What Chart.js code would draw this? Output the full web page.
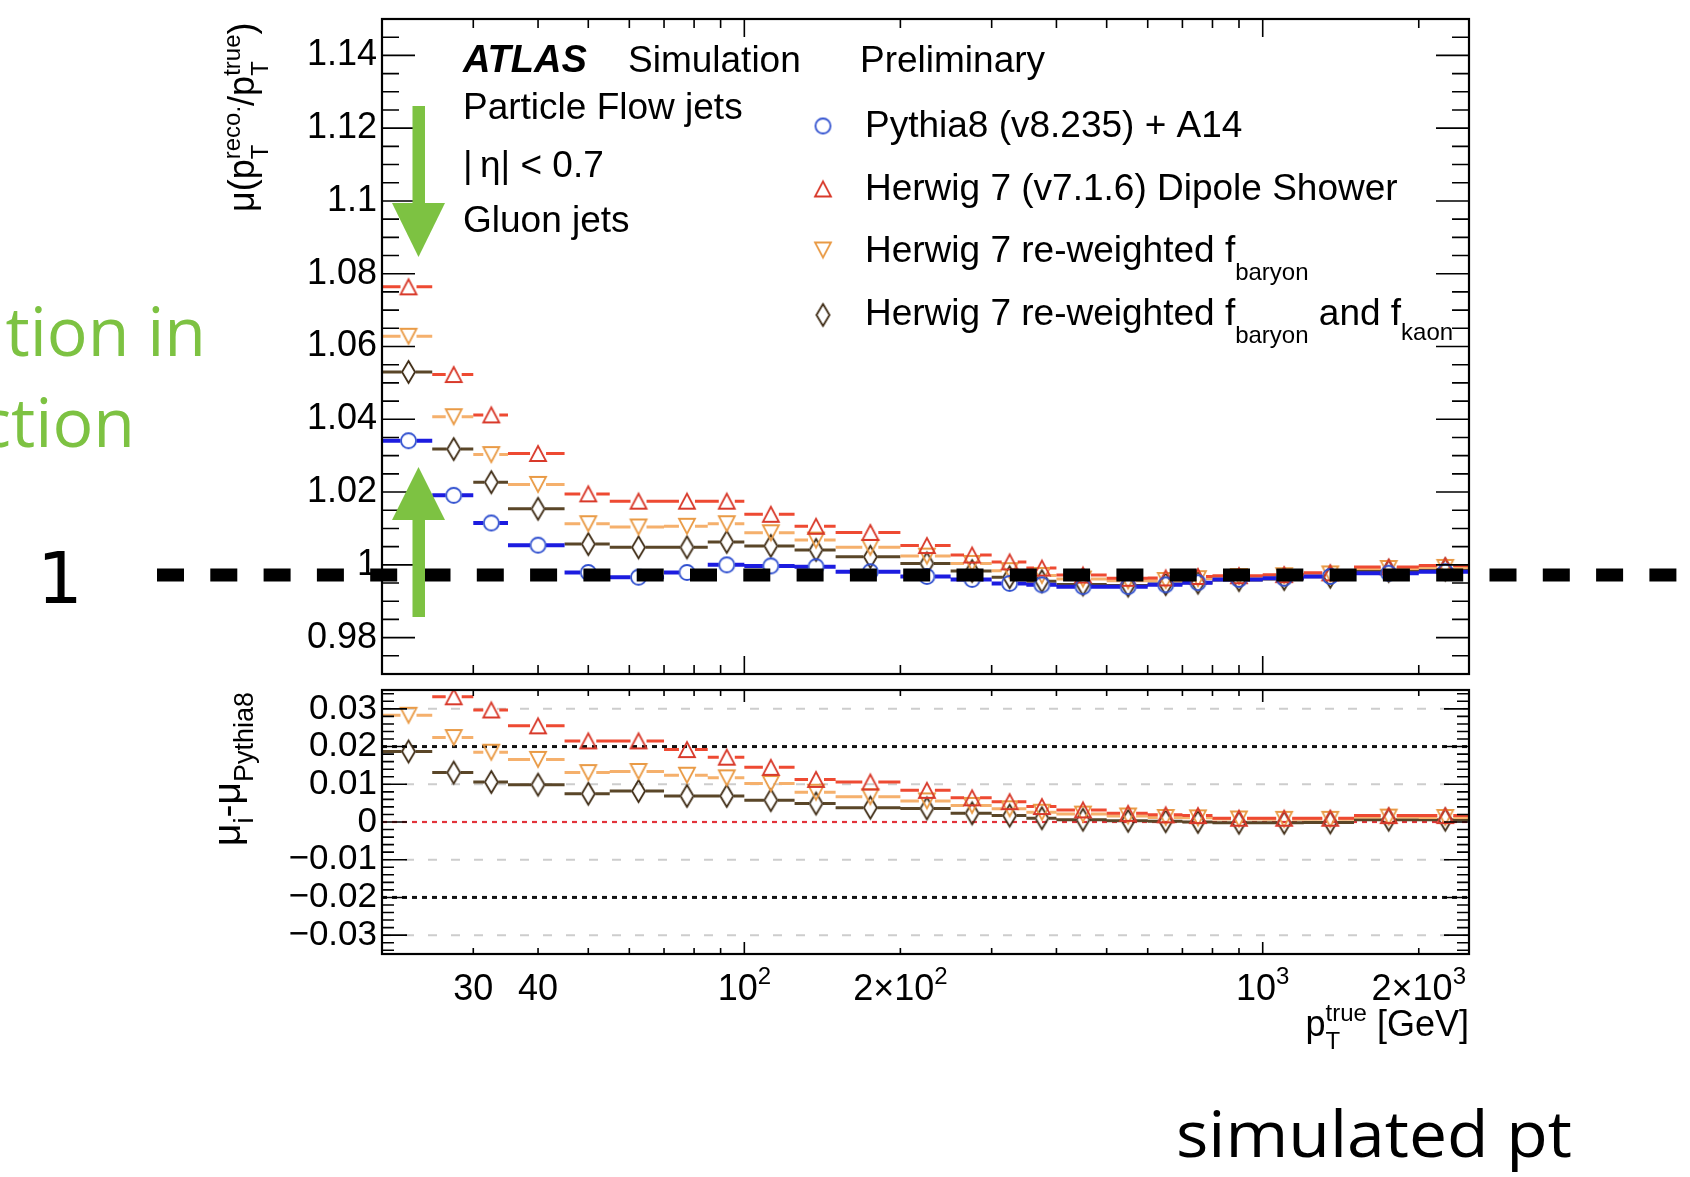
<!DOCTYPE html>
<html>
<head>
<meta charset="utf-8">
<script src="https://cdn.jsdelivr.net/npm/chart.js@4.4.1/dist/chart.umd.min.js"></script>
<style>
  html, body { margin: 0; padding: 0; background: #fff; overflow: hidden; }
  #page { position: relative; width: 1690px; height: 1177px; background: #fff; }
  canvas { position: absolute; left: 0; }
  #mainChart { top: 0; }
  #ratioChart { top: 682px; }
  #overlay { top: 0; pointer-events: none; }
</style>
</head>
<body>
<div id="page">
  <canvas id="mainChart" width="1690" height="682"></canvas>
  <canvas id="ratioChart" width="1690" height="495"></canvas>
  <canvas id="overlay" width="1690" height="1177"></canvas>
</div>
<script>
// pT bins (GeV)
const binEdges = [20, 25, 30, 35, 45, 55, 70, 85, 100, 125, 150, 200, 250, 300, 350, 400, 500, 600, 700, 800, 1000, 1200, 1500, 2000, 2500];

// upper panel: mean response
const pythia = [1.0341, 1.0191, 1.0115, 1.0054, 0.9979, 0.9966, 0.9979, 1.0000, 0.9997, 0.9995, 0.9981, 0.9968, 0.9960, 0.9949, 0.9945, 0.9940, 0.9940, 0.9945, 0.9951, 0.9960, 0.9963, 0.9968, 0.9977, 0.9981];
const herwigDipole = [1.0764, 1.0523, 1.0412, 1.0306, 1.0195, 1.0175, 1.0175, 1.0175, 1.0139, 1.0106, 1.0089, 1.0053, 1.0027, 1.0008, 0.9991, 0.9972, 0.9963, 0.9964, 0.9968, 0.9970, 0.9973, 0.9978, 0.9994, 0.9998];
const herwigBaryon = [1.0628, 1.0407, 1.0303, 1.0221, 1.0113, 1.0104, 1.0106, 1.0113, 1.0088, 1.0068, 1.0048, 1.0024, 1.0004, 0.9984, 0.9971, 0.9961, 0.9956, 0.9957, 0.9962, 0.9968, 0.9970, 0.9975, 0.9990, 0.9993];
const herwigBaryonKaon = [1.0530, 1.0318, 1.0227, 1.0154, 1.0057, 1.0048, 1.0048, 1.0063, 1.0052, 1.0041, 1.0022, 1.0004, 0.9983, 0.9966, 0.9955, 0.9946, 0.9943, 0.9947, 0.9951, 0.9958, 0.9961, 0.9967, 0.9983, 0.9987];

// lower panel: mu_i - mu_Pythia8
const diffDipole = [0.042, 0.0332, 0.0297, 0.0255, 0.0215, 0.0215, 0.0192, 0.0172, 0.0145, 0.0113, 0.0106, 0.0084, 0.0064, 0.0054, 0.0041, 0.0032, 0.0023, 0.0019, 0.0017, 0.0010, 0.0010, 0.0010, 0.0017, 0.0017];
const diffBaryon = [0.0283, 0.0224, 0.0185, 0.0166, 0.0131, 0.0134, 0.0124, 0.0117, 0.0102, 0.0079, 0.0067, 0.0056, 0.0044, 0.0035, 0.0026, 0.0021, 0.0016, 0.0012, 0.0011, 0.0008, 0.0007, 0.0007, 0.0013, 0.0012];
const diffBaryonKaon = [0.0187, 0.0131, 0.0106, 0.0099, 0.0075, 0.0082, 0.0069, 0.0069, 0.0058, 0.0049, 0.0038, 0.0036, 0.0023, 0.0017, 0.0010, 0.0006, 0.0003, 0.0002, 0.0000, -0.0002, -0.0002, -0.0001, 0.0006, 0.0006];

// axes
const mainYLabels = [0.98, 1.0, 1.02, 1.04, 1.06, 1.08, 1.1, 1.12, 1.14];
const ratioYLabels = [-0.03, -0.02, -0.01, 0, 0.01, 0.02, 0.03];
const xLabelValues = [30, 40, 100, 200, 1000, 2000];
const xLabelBase = ["30", "40", "10", "2\u00d710", "10", "2\u00d710"];
const xLabelPower = ["", "", "2", "2", "3", "3"];
const xMajorTicks = [100, 1000];
const xMinorTicks = [20, 30, 40, 50, 60, 70, 80, 90, 200, 300, 400, 500, 600, 700, 800, 900, 2000];
const ratioGrayLines = [0.03, 0.01, -0.01, -0.03];
const ratioBlackLines = [0.02, -0.02];
const ratioRedLines = [0];

const legendNames = [
  [{ t: "Pythia8 (v8.235) + A14" }],
  [{ t: "Herwig 7 (v7.1.6) Dipole Shower" }],
  [{ t: "Herwig 7 re-weighted f" }, { t: "baryon", sub: 18 }],
  [{ t: "Herwig 7 re-weighted f" }, { t: "baryon", sub: 18 }, { t: " and f" }, { t: "kaon", sub: 15 }],
];
const infoLines = ["Particle Flow jets", "|\u2009\u03b7| < 0.7", "Gluon jets"];

const FONT = "'Liberation Sans', Arial, Helvetica, sans-serif";

function markerCanvas(shape, color, w, h) {
  const c = document.createElement("canvas");
  c.width = w + 6;
  c.height = h + 6;
  const ctx = c.getContext("2d");
  ctx.translate(c.width / 2, c.height / 2);
  ctx.beginPath();
  if (shape === "circle") {
    ctx.arc(0, 0, w / 2, 0, Math.PI * 2);
  } else if (shape === "up") {
    ctx.moveTo(0, -h / 2); ctx.lineTo(w / 2, h / 2); ctx.lineTo(-w / 2, h / 2); ctx.closePath();
  } else if (shape === "down") {
    ctx.moveTo(0, h / 2); ctx.lineTo(w / 2, -h / 2); ctx.lineTo(-w / 2, -h / 2); ctx.closePath();
  } else {
    ctx.moveTo(0, -h / 2); ctx.lineTo(w / 2, 0); ctx.lineTo(0, h / 2); ctx.lineTo(-w / 2, 0); ctx.closePath();
  }
  ctx.lineWidth = 1.8;
  ctx.strokeStyle = color;
  ctx.stroke();
  return c;
}

const styles = [
  { img: markerCanvas("circle", "#3050cf", 15, 15), bar: "#1c1ce0", width: 4, gap: 8 },
  { img: markerCanvas("up", "#d8392a", 16, 15), bar: "#ee4a32", width: 3, gap: 8 },
  { img: markerCanvas("down", "#e99a45", 16, 15), bar: "#f5b06c", width: 3, gap: 8 },
  { img: markerCanvas("diamond", "#3e2b14", 13, 22), bar: "#5a4628", width: 3, gap: 7 },
];

function binDataset(values, style) {
  return {
    data: values.map((v, i) => ({ x: (binEdges[i] + binEdges[i + 1]) / 2, y: v })),
    pointStyle: style.img,
    pointRadius: 7,
    pointHoverRadius: 7,
    barColor: style.bar,
    barWidth: style.width,
    gap: style.gap,
    clip: 0,
  };
}

// horizontal bin-width bars, drawn just before each dataset's markers
const binBars = {
  id: "binBars",
  beforeDatasetDraw(chart, args) {
    const ds = chart.data.datasets[args.index];
    if (!ds.barColor) return;
    const { ctx, chartArea: a, scales: { x, y } } = chart;
    ctx.save();
    ctx.beginPath();
    ctx.rect(a.left, a.top, a.right - a.left, a.bottom - a.top);
    ctx.clip();
    ctx.strokeStyle = ds.barColor;
    ctx.lineWidth = ds.barWidth;
    ctx.beginPath();
    ds.data.forEach((p, i) => {
      const yp = y.getPixelForValue(p.y);
      const xl = x.getPixelForValue(binEdges[i]);
      const xh = x.getPixelForValue(binEdges[i + 1]);
      const xc = x.getPixelForValue(p.x);
      ctx.moveTo(xl, yp); ctx.lineTo(xc - ds.gap, yp);
      ctx.moveTo(xc + ds.gap, yp); ctx.lineTo(xh, yp);
    });
    ctx.stroke();
    ctx.restore();
  },
};

// ROOT style frame with inward ticks on all four sides
const frameTicks = {
  id: "frameTicks",
  afterDatasetsDraw(chart, args, o) {
    const { ctx, chartArea: a, scales: { x, y } } = chart;
    ctx.save();
    ctx.strokeStyle = "#000";
    ctx.lineWidth = 1.6;
    ctx.beginPath();
    const xt = (v, len) => {
      const px = x.getPixelForValue(v);
      ctx.moveTo(px, a.bottom); ctx.lineTo(px, a.bottom - len);
      ctx.moveTo(px, a.top); ctx.lineTo(px, a.top + len);
    };
    const yt = (v, len) => {
      const py = y.getPixelForValue(v);
      ctx.moveTo(a.left, py); ctx.lineTo(a.left + len, py);
      ctx.moveTo(a.right, py); ctx.lineTo(a.right - len, py);
    };
    xMinorTicks.forEach((v) => xt(v, o.xMinor));
    xMajorTicks.forEach((v) => xt(v, o.xMajor));
    for (let k = Math.ceil(y.min / o.yStep - 1e-6); k * o.yStep <= y.max + 1e-9; k++) yt(k * o.yStep, o.yMinor);
    o.yMajorValues.forEach((v) => yt(v, o.yMajor));
    ctx.stroke();
    ctx.lineWidth = 2.2;
    ctx.strokeRect(a.left, a.top, a.right - a.left, a.bottom - a.top);
    ctx.restore();
  },
};

function fontOf(p) {
  return (p.style || "") + " " + p.size + "px " + FONT;
}
function richWidth(ctx, parts) {
  let w = 0;
  parts.forEach((p) => {
    if (p.stack) {
      w += Math.max(...p.stack.map((s) => { ctx.font = fontOf(s); return ctx.measureText(s.t).width; }));
    } else {
      ctx.font = fontOf(p);
      w += ctx.measureText(p.t).width;
    }
  });
  return w;
}
function drawRich(ctx, x, y, parts) {
  parts.forEach((p) => {
    if (p.stack) {
      let w = 0;
      p.stack.forEach((s) => {
        ctx.font = fontOf(s);
        ctx.fillText(s.t, x, y + (s.dy || 0));
        w = Math.max(w, ctx.measureText(s.t).width);
      });
      x += w;
    } else {
      ctx.font = fontOf(p);
      ctx.fillText(p.t, x, y + (p.dy || 0));
      x += ctx.measureText(p.t).width;
    }
  });
  return x;
}

const mainYTitle = [
  { t: "\u03bc(p", size: 36 },
  { stack: [{ t: "reco.", size: 24, dy: -14 }, { t: "T", size: 24, dy: 14 }] },
  { t: "/p", size: 36 },
  { stack: [{ t: "true", size: 24, dy: -14 }, { t: "T", size: 24, dy: 14 }] },
  { t: ")", size: 36 },
];
const ratioYTitle = [
  { t: "\u03bc", size: 39 },
  { t: "i", size: 27, dy: 13 },
  { t: "-\u03bc", size: 39 },
  { t: "Pythia8", size: 27, dy: 13 },
];
const xTitle = [
  { t: "p", size: 36 },
  { stack: [{ t: "true", size: 24, dy: -15 }, { t: "T", size: 24, dy: 13 }] },
  { t: " [GeV]", size: 36 },
];

const mainText = {
  id: "mainText",
  afterDraw(chart) {
    const ctx = chart.ctx;
    ctx.save();
    ctx.fillStyle = "#000";
    ctx.textAlign = "left";
    ctx.textBaseline = "alphabetic";
    ctx.font = "italic bold 38px " + FONT;
    ctx.fillText("ATLAS", 463, 72);
    ctx.font = "37px " + FONT;
    ctx.fillText("Simulation", 628, 72);
    ctx.fillText("Preliminary", 860, 72);
    [119, 177, 232].forEach((by, i) => ctx.fillText(infoLines[i], 463, by));

    const rowBase = [137, 200, 262, 325];
    const rowMarker = [126, 189, 250, 315];
    legendNames.forEach((parts, i) => {
      const img = styles[i].img;
      ctx.drawImage(img, 823 - img.width / 2, rowMarker[i] - img.height / 2);
      drawRich(ctx, 865, rowBase[i], parts.map((p) => ({ t: p.t, size: p.sub ? 24 : 37, dy: p.sub || 0 })));
    });

    ctx.translate(254, 212);
    ctx.rotate(-Math.PI / 2);
    drawRich(ctx, 0, 0, mainYTitle);
    ctx.restore();
  },
};

const ratioText = {
  id: "ratioText",
  beforeDatasetsDraw(chart) {
    const { ctx, chartArea: a, scales: { y } } = chart;
    ctx.save();
    ctx.beginPath();
    ctx.rect(a.left, a.top, a.right - a.left, a.bottom - a.top);
    ctx.clip();
    const hline = (v, color, w, dash) => {
      const py = y.getPixelForValue(v);
      ctx.strokeStyle = color; ctx.lineWidth = w; ctx.setLineDash(dash);
      ctx.beginPath(); ctx.moveTo(a.left, py); ctx.lineTo(a.right, py); ctx.stroke();
    };
    ratioGrayLines.forEach((v) => hline(v, "#cdcdcd", 2, [9, 14]));
    ratioBlackLines.forEach((v) => hline(v, "#111", 3, [5, 5]));
    ratioRedLines.forEach((v) => hline(v, "#e2333a", 2.2, [5, 5]));
    ctx.restore();
  },
  afterDraw(chart) {
    const { ctx, scales: { x } } = chart;
    ctx.save();
    ctx.fillStyle = "#000";
    ctx.textBaseline = "alphabetic";
    // x tick labels with raised exponents
    xLabelValues.forEach((v, i) => {
      const parts = [{ t: xLabelBase[i], size: 36 }];
      if (xLabelPower[i]) parts.push({ t: xLabelPower[i], size: 24, dy: -16 });
      const w = richWidth(ctx, parts);
      drawRich(ctx, x.getPixelForValue(v) - w / 2, 318, parts);
    });
    const w = richWidth(ctx, xTitle);
    drawRich(ctx, chart.chartArea.right - w, 354, xTitle);
    ctx.translate(240, 164);
    ctx.rotate(-Math.PI / 2);
    drawRich(ctx, 0, 0, ratioYTitle);
    ctx.restore();
  },
};

const baseOptions = {
  responsive: false,
  animation: false,
  devicePixelRatio: 1,
  events: [],
};

// nudge layout padding so the plot frame lands exactly on the wanted box
function pinArea(chart, want) {
  const p = chart.options.layout.padding;
  const a = chart.chartArea;
  p.top += want.top - a.top;
  p.bottom += a.bottom - want.bottom;
  p.right += a.right - want.right;
  chart.update();
}

const mainChart = new Chart(document.getElementById("mainChart"), {
  type: "scatter",
  data: {
    datasets: [
      binDataset(pythia, styles[0]),
      binDataset(herwigDipole, styles[1]),
      binDataset(herwigBaryon, styles[2]),
      binDataset(herwigBaryonKaon, styles[3]),
    ],
  },
  options: {
    ...baseOptions,
    layout: { padding: { left: 0, top: 19, right: 221, bottom: 4 } },
    plugins: {
      legend: { display: false },
      tooltip: { enabled: false },
      frameTicks: { xMinor: 9, xMajor: 18, yMinor: 17, yMajor: 33, yStep: 0.005, yMajorValues: mainYLabels },
    },
    scales: {
      x: { type: "logarithmic", min: 20, max: 2500, display: false },
      y: {
        type: "linear",
        min: 0.97,
        max: 1.15,
        grid: { display: false, drawTicks: false },
        border: { display: false },
        ticks: { color: "#000", font: { family: FONT, size: 36 }, padding: 5, autoSkip: false, callback: (v) => String(Math.round(v * 100) / 100) },
        afterBuildTicks: (s) => { s.ticks = mainYLabels.map((v) => ({ value: v })); },
        afterFit: (s) => { s.width = 382; s.paddingTop = 0; s.paddingBottom = 0; },
      },
    },
  },
  plugins: [binBars, frameTicks, mainText],
});
pinArea(mainChart, { top: 19, bottom: 678, right: 1469 });

const ratioChart = new Chart(document.getElementById("ratioChart"), {
  type: "scatter",
  data: {
    datasets: [
      binDataset(diffDipole, styles[1]),
      binDataset(diffBaryon, styles[2]),
      binDataset(diffBaryonKaon, styles[3]),
    ],
  },
  options: {
    ...baseOptions,
    layout: { padding: { left: 0, top: 5, right: 221, bottom: 0 } },
    plugins: {
      legend: { display: false },
      tooltip: { enabled: false },
      frameTicks: { xMinor: 6, xMajor: 12, yMinor: 12, yMajor: 25, yStep: 0.002, yMajorValues: ratioYLabels },
    },
    scales: {
      x: {
        type: "logarithmic",
        min: 20,
        max: 2500,
        grid: { display: false, drawTicks: false },
        border: { display: false },
        ticks: { display: false },
        afterFit: (s) => { s.height = 223; s.paddingLeft = 0; s.paddingRight = 0; },
      },
      y: {
        type: "linear",
        min: -0.035,
        max: 0.035,
        grid: { display: false, drawTicks: false },
        border: { display: false },
        ticks: {
          color: "#000",
          font: { family: FONT, size: 35 },
          padding: 5,
          autoSkip: false,
          callback: (v) => (Math.abs(v) < 1e-9 ? "0" : (v < 0 ? "\u2212" : "") + Math.abs(v).toFixed(2)),
        },
        afterBuildTicks: (s) => { s.ticks = ratioYLabels.map((v) => ({ value: v })); },
        afterFit: (s) => { s.width = 382; s.paddingTop = 0; s.paddingBottom = 0; },
      },
    },
  },
  plugins: [binBars, frameTicks, ratioText],
});
pinArea(ratioChart, { top: 5, bottom: 272, right: 1469 });

// slide annotations on top of the plot
const ov = document.getElementById("overlay").getContext("2d");
const GREEN = "#7dc242";

ov.save();
ov.strokeStyle = "#000";
ov.lineWidth = 13;
ov.setLineDash([27, 26.3]);
ov.beginPath();
ov.moveTo(157, 575);
ov.lineTo(1690, 575);
ov.stroke();
ov.restore();

ov.fillStyle = GREEN;
// down arrow
ov.fillRect(412.5, 106, 12.5, 98);
ov.beginPath();
ov.moveTo(392, 203); ov.lineTo(445, 203); ov.lineTo(418.5, 257); ov.closePath();
ov.fill();
// up arrow
ov.fillRect(412.5, 519, 12.5, 98);
ov.beginPath();
ov.moveTo(392, 520); ov.lineTo(445, 520); ov.lineTo(418.5, 467); ov.closePath();
ov.fill();

ov.textBaseline = "alphabetic";
ov.font = "68px 'Open Sans', 'DejaVu Sans', sans-serif";
ov.textAlign = "right";
ov.fillText("tion in", 206, 356);
ov.fillText("ction", 135, 447);

ov.fillStyle = "#000";
ov.textAlign = "left";
ov.font = "72px 'DejaVu Sans', sans-serif";
ov.fillText("1", 37, 603);

ov.font = "64px 'Open Sans', 'DejaVu Sans', sans-serif";
const simW = ov.measureText("simulated pt").width;
ov.save();
ov.translate(1176, 1157);
ov.scale(396 / simW, 1);
ov.fillText("simulated pt", 0, 0);
ov.restore();
</script>
</body>
</html>
